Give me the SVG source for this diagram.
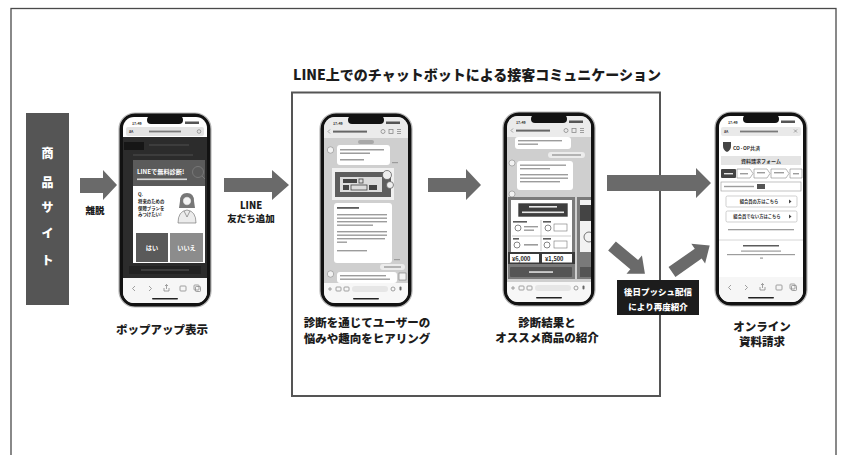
<svg xmlns="http://www.w3.org/2000/svg" width="851" height="455" viewBox="0 0 851 455">
  <style>
    .jp { font-family: "Noto Sans CJK JP", "Noto Sans", sans-serif; }
    .cap { font-family: "Noto Sans CJK JP", "Noto Sans", sans-serif; font-weight: 900; font-size: 11.5px; fill: #1c1c1c; text-anchor: middle; }
    .title { font-family: "Noto Sans CJK JP", "Noto Sans", sans-serif; font-weight: 900; font-size: 14px; fill: #1c1c1c; text-anchor: middle; }
    .lbl { font-family: "Noto Sans CJK JP", "Noto Sans", sans-serif; font-weight: 900; font-size: 9.5px; fill: #1c1c1c; text-anchor: middle; }
    .arrow { fill: #6a6a6a; }
    .bezel { fill: #121212; stroke: #b8b8b8; stroke-width: 1.2; }
    .notch { fill: #121212; }
    .bar { fill: #9c9c9c; }
    .bard { fill: #5c5c5c; }
    .barw { fill: #e8e8e8; }
    .bubble { fill: #ffffff; }
    .icon { fill: none; stroke: #8a8a8a; stroke-width: 0.8; }
    .tiny { font-family: "Noto Sans CJK JP", "Noto Sans", sans-serif; font-weight: 700; }
  </style>
  <defs>
    <clipPath id="screen-clip">
      <rect x="4" y="4" width="84" height="186" rx="11"/>
    </clipPath>
  </defs>

  <rect width="851" height="455" fill="#ffffff"/>
  <!-- outer frame (open at the bottom) -->
  <rect x="11" y="8.5" width="825" height="470" fill="none" stroke="#4a4a4a" stroke-width="1.3"/>

  <!-- chatbot section box and its heading -->
  <g id="chatbot-section">
    <text class="title" x="477" y="80">LINE上でのチャットボットによる接客コミュニケーション</text>
    <rect x="292" y="92.5" width="368" height="303.5" fill="none" stroke="#555" stroke-width="2"/>
  </g>

  <!-- product site -->
  <g id="product-site">
    <rect x="26" y="113" width="43" height="192" fill="#555555"/>
    <g class="jp" font-weight="900" font-size="12" fill="#ffffff" text-anchor="middle">
      <text x="47.5" y="158">商</text>
      <text x="47.5" y="187">品</text>
      <text x="47.5" y="212">サ</text>
      <text x="47.5" y="238">イ</text>
      <text x="47.5" y="265">ト</text>
    </g>
  </g>

  <!-- connectors -->
  <g id="connectors">
    <polygon class="arrow" points="80,178 103,178 103,170 117,185 103,200 103,193 80,193"/>
    <polygon class="arrow" points="224,178 272,178 272,170 289,185 272,200 272,192 224,192"/>
    <polygon class="arrow" points="428,178 466,178 466,169 481,185 466,200 466,192 428,192"/>
    <polygon class="arrow" points="607,175 696,175 696,168 711,183 696,198 696,191 607,191"/>
    <polygon class="arrow" transform="translate(612,246) rotate(40)" points="0,-6 29,-6 29,-12 43,0 29,12 29,6 0,6"/>
    <polygon class="arrow" transform="translate(672,272) rotate(-35)" points="0,-6 32,-6 32,-12 46,0 32,12 32,6 0,6"/>
    <text class="lbl" x="95" y="213.5">離脱</text>
    <text class="lbl" x="251" y="208.5">LINE</text>
    <text class="lbl" x="251" y="222">友だち追加</text>
  </g>

  <!-- push notification label -->
  <g id="push-label">
    <rect x="617" y="280" width="82" height="35" fill="#1c1c1c"/>
    <text class="jp" x="658" y="295" font-size="8.5" font-weight="900" fill="#ffffff" text-anchor="middle">後日プッシュ配信</text>
    <text class="jp" x="658" y="309.5" font-size="8.5" font-weight="900" fill="#ffffff" text-anchor="middle">により再度紹介</text>
  </g>

  <!-- phone 1: popup on product site -->
  <g id="phone-popup">
    <g transform="translate(119,113)">
      <rect class="bezel" x="0" y="0" width="92" height="194" rx="16"/>
      <g clip-path="url(#screen-clip)">
        <rect x="4" y="4" width="84" height="186" fill="#ffffff"/>
        <text class="tiny" x="13" y="11.5" font-size="3.6" fill="#333">17:49</text>
        <rect x="66" y="8.5" width="14" height="2.5" fill="#555"/>
        <rect x="7" y="14" width="78" height="9" rx="2" fill="#e3e3e3"/>
        <text class="tiny" x="10" y="20.3" font-size="3.6" fill="#444">aA</text>
        <rect x="30" y="17.6" width="32" height="1.8" fill="#7a7a7a"/>
        <circle cx="80" cy="18.5" r="1.8" class="icon"/>
        <!-- dimmed page -->
        <rect x="4" y="24" width="84" height="141" fill="#2c2c2c"/>
        <rect x="5" y="29" width="20" height="8" fill="#161616"/>
        <rect x="30" y="31" width="40" height="2" fill="#3d3d3d"/>
        <rect x="14" y="41" width="60" height="2" fill="#3d3d3d"/>
        <rect x="10" y="153" width="72" height="8" fill="#222"/>
        <rect x="22" y="156" width="48" height="2" fill="#3d3d3d"/>
        <!-- popup -->
        <rect x="14" y="47" width="72" height="26" fill="#5b5b5b"/>
        <circle cx="79" cy="59" r="5.5" fill="none" stroke="#777" stroke-width="1"/>
        <line x1="83" y1="63" x2="86" y2="66" stroke="#777" stroke-width="1"/>
        <text class="tiny" x="18" y="61" font-size="6.2" fill="#ffffff">LINEで無料診断!</text>
        <rect x="18" y="65.5" width="50" height="1.6" fill="#d8d8d8"/>
        <rect x="14" y="73" width="72" height="77" fill="#ffffff"/>
        <text class="tiny" x="19" y="83" font-size="4.6" fill="#222">Q.</text>
        <text class="tiny" x="19" y="90" font-size="4.4" fill="#222">将来のための</text>
        <text class="tiny" x="19" y="96.5" font-size="4.4" fill="#222">保障プランを</text>
        <text class="tiny" x="19" y="103" font-size="4.4" fill="#222">みつけたい!</text>
        <!-- consultant illustration -->
        <path d="M61,88 q0,-8 7,-8 q7,0 7,8 l1,7 l-16,0 z" fill="#777"/>
        <circle cx="68" cy="88" r="4.2" fill="#f4f4f4" stroke="#666" stroke-width="0.5"/>
        <path d="M59,110 q0,-12 9,-13 q9,1 9,13 z" fill="#ececec" stroke="#666" stroke-width="0.6"/>
        <path d="M65,98 l3,6 l3,-6" fill="none" stroke="#666" stroke-width="0.6"/>
        <rect x="17" y="120" width="32" height="29" fill="#5a5a5a"/>
        <rect x="51" y="120" width="33" height="29" fill="#8c8c8c"/>
        <text class="tiny" x="33" y="137" font-size="6.2" fill="#ffffff" text-anchor="middle">はい</text>
        <text class="tiny" x="67.5" y="137" font-size="6.2" fill="#ffffff" text-anchor="middle">いいえ</text>
        <!-- browser toolbar -->
        <rect x="4" y="165" width="84" height="25" fill="#f6f6f6"/>
        <path class="icon" d="M16,173 l-2.5,2.5 l2.5,2.5 M30,173 l2.5,2.5 l-2.5,2.5"/>
        <path class="icon" d="M45,178 h5 v-3 M47.5,171.5 v4.5 M46,173 l1.5,-1.5 l1.5,1.5 M45,175 v3"/>
        <rect class="icon" x="61" y="173" width="6" height="5" rx="0.8"/>
        <rect class="icon" x="75" y="172" width="5" height="5" rx="0.8"/>
        <rect class="icon" x="76.5" y="173.5" width="5" height="5" rx="0.8"/>
        <rect x="33" y="185" width="26" height="1.6" rx="0.8" fill="#222"/>
      </g>
      <rect class="notch" x="28" y="3" width="36" height="8" rx="4"/>
    </g>
    <text class="cap" x="162" y="334">ポップアップ表示</text>
  </g>

  <!-- phone 2: chatbot hearing -->
  <g id="phone-hearing">
    <g transform="translate(320,113)">
      <rect class="bezel" x="0" y="0" width="92" height="194" rx="16"/>
      <g clip-path="url(#screen-clip)">
        <rect x="4" y="4" width="84" height="186" fill="#cfcfcf"/>
        <rect x="4" y="4" width="84" height="21" fill="#ebebeb"/>
        <text class="tiny" x="13" y="11.5" font-size="3.6" fill="#333">17:49</text>
        <rect x="66" y="8.5" width="14" height="2.5" fill="#555"/>
        <path class="icon" d="M10,16.5 l-2,2 l2,2"/>
        <rect x="13" y="17.6" width="34" height="2" fill="#666"/>
        <circle class="icon" cx="63" cy="18.5" r="2"/>
        <rect class="icon" x="69" y="16.5" width="4" height="4"/>
        <path class="icon" d="M77,16.5 h4 M77,18.5 h4 M77,20.5 h4"/>
        <rect x="38" y="27" width="16" height="4" rx="2" fill="#a8a8a8"/>
        <!-- bot bubble 1 -->
        <circle cx="10.5" cy="37" r="3.2" fill="#f2f2f2" stroke="#777" stroke-width="0.5"/>
        <rect class="bubble" x="17" y="32" width="53" height="20" rx="3"/>
        <rect class="bar" x="20" y="36" width="44" height="1.5"/>
        <rect class="bar" x="20" y="39.5" width="30" height="1.5"/>
        <rect class="bar" x="20" y="46" width="24" height="1.5"/>
        <rect class="bar" x="72" y="49" width="6" height="1.2"/>
        <!-- banner image -->
        <rect x="12" y="55" width="62" height="32" fill="#f0f0f0"/>
        <rect x="15" y="59" width="56" height="25" fill="#5e5e5e"/>
        <rect x="20" y="64" width="42" height="15" fill="#dcdcdc"/>
        <rect x="23" y="66" width="14" height="4" fill="#444"/>
        <rect x="39" y="66" width="4" height="4" fill="none" stroke="#444" stroke-width="0.8"/>
        <rect x="23" y="72" width="6" height="5" fill="#444"/>
        <rect x="31" y="72" width="16" height="5" fill="none" stroke="#444" stroke-width="0.8"/>
        <rect x="49" y="72" width="8" height="5" fill="#444"/>
        <circle cx="67" cy="62" r="4.5" fill="#eeeeee" stroke="#555" stroke-width="0.7"/>
        <circle cx="70" cy="72" r="3.5" fill="#eeeeee" stroke="#555" stroke-width="0.7"/>
        <!-- bot bubble 2 -->
        <rect class="bubble" x="14" y="90" width="58" height="60" rx="3"/>
        <rect class="bard" x="17" y="94" width="22" height="1.8"/>
        <rect class="bar" x="17" y="101" width="50" height="1.4"/>
        <rect class="bar" x="17" y="104.5" width="50" height="1.4"/>
        <rect class="bar" x="17" y="108" width="50" height="1.4"/>
        <rect class="bar" x="17" y="111.5" width="36" height="1.4"/>
        <rect class="bar" x="17" y="118" width="50" height="1.4"/>
        <rect class="bar" x="17" y="121.5" width="50" height="1.4"/>
        <rect class="bar" x="17" y="125" width="48" height="1.4"/>
        <rect class="bar" x="17" y="128.5" width="10" height="1.4"/>
        <rect class="bar" x="17" y="137" width="30" height="1.4"/>
        <rect class="bar" x="74" y="146" width="6" height="1.2"/>
        <!-- user reply -->
        <rect x="60" y="151" width="25" height="6" rx="3" fill="#ececec"/>
        <rect class="bar" x="64" y="153.3" width="17" height="1.4"/>
        <!-- bot bubble 3 -->
        <circle cx="10.5" cy="161" r="3.2" fill="#f2f2f2" stroke="#777" stroke-width="0.5"/>
        <rect class="bubble" x="17" y="159" width="60" height="11" rx="3"/>
        <rect class="bar" x="20" y="162" width="46" height="1.4"/>
        <rect class="bar" x="20" y="165.5" width="50" height="1.4"/>
        <rect x="79" y="160" width="7" height="7" fill="#f4f4f4" stroke="#666" stroke-width="0.5"/>
        <!-- input bar -->
        <rect x="4" y="170" width="84" height="20" fill="#f7f7f7"/>
        <path class="icon" d="M8,176 h4 M10,174 v4"/>
        <rect class="icon" x="16" y="174" width="5" height="4" rx="0.8"/>
        <rect class="icon" x="24" y="174" width="5" height="4" rx="0.8"/>
        <rect x="32" y="173" width="36" height="6" rx="3" fill="#e6e6e6"/>
        <circle class="icon" cx="73" cy="176" r="2"/>
        <rect x="79.5" y="173.5" width="2" height="4" rx="1" fill="#666"/>
        <rect x="33" y="185" width="26" height="1.6" rx="0.8" fill="#222"/>
      </g>
      <rect class="notch" x="28" y="3" width="36" height="8" rx="4"/>
    </g>
    <text class="cap" x="367" y="326.5">診断を通じてユーザーの</text>
    <text class="cap" x="367" y="342.5">悩みや趣向をヒアリング</text>
  </g>

  <!-- phone 3: diagnosis result and recommended products -->
  <g id="phone-result">
    <g transform="translate(503,112)">
      <rect class="bezel" x="0" y="0" width="92" height="194" rx="16"/>
      <g clip-path="url(#screen-clip)">
        <rect x="4" y="4" width="84" height="186" fill="#cfcfcf"/>
        <rect x="4" y="4" width="84" height="21" fill="#ebebeb"/>
        <text class="tiny" x="13" y="11.5" font-size="3.6" fill="#333">17:49</text>
        <rect x="66" y="8.5" width="14" height="2.5" fill="#555"/>
        <path class="icon" d="M10,16.5 l-2,2 l2,2"/>
        <rect x="13" y="17.6" width="34" height="2" fill="#666"/>
        <circle class="icon" cx="63" cy="18.5" r="2"/>
        <rect class="icon" x="69" y="16.5" width="4" height="4"/>
        <path class="icon" d="M77,16.5 h4 M77,18.5 h4 M77,20.5 h4"/>
        <!-- bot bubble -->
        <rect class="bubble" x="12" y="25" width="56" height="12" rx="3"/>
        <rect class="bar" x="15" y="28" width="44" height="1.4"/>
        <rect class="bar" x="15" y="31.5" width="20" height="1.4"/>
        <!-- user reply -->
        <rect x="45" y="40" width="37" height="6" rx="3" fill="#ececec"/>
        <rect class="bar" x="49" y="42.3" width="29" height="1.4"/>
        <!-- bot bubble -->
        <circle cx="9" cy="51" r="3" fill="#f2f2f2" stroke="#777" stroke-width="0.5"/>
        <rect class="bubble" x="14" y="49" width="56" height="29" rx="3"/>
        <rect class="bar" x="17" y="52.5" width="46" height="1.4"/>
        <rect class="bar" x="17" y="56" width="30" height="1.4"/>
        <rect class="bar" x="17" y="62" width="48" height="1.4"/>
        <rect class="bar" x="17" y="65.5" width="48" height="1.4"/>
        <rect class="bar" x="17" y="69" width="40" height="1.4"/>
        <circle cx="9" cy="82" r="3" fill="#f2f2f2" stroke="#777" stroke-width="0.5"/>
        <!-- recommendation card -->
        <rect x="5" y="85" width="67" height="82" fill="#7a7a7a"/>
        <rect x="8" y="88" width="61" height="52" fill="#ffffff"/>
        <rect x="15" y="91" width="50" height="14" fill="#3e3e3e" stroke="#ffffff" stroke-width="0.6"/>
        <rect class="barw" x="26" y="94" width="28" height="1.6"/>
        <rect class="barw" x="19" y="99.5" width="42" height="1.6"/>
        <line x1="38" y1="108" x2="38" y2="139" stroke="#aaa" stroke-width="0.6"/>
        <line x1="9" y1="124" x2="68" y2="124" stroke="#aaa" stroke-width="0.6"/>
        <rect class="bard" x="10" y="109" width="14" height="1.6"/>
        <circle cx="15" cy="116" r="3" fill="none" stroke="#555" stroke-width="0.7"/>
        <rect class="bar" x="21" y="114" width="14" height="1.4"/>
        <rect class="bar" x="21" y="117.5" width="10" height="1.4"/>
        <rect class="bard" x="40" y="109" width="8" height="1.6"/>
        <circle cx="45" cy="116" r="3" fill="none" stroke="#555" stroke-width="0.7"/>
        <rect x="51" y="112" width="13" height="7" fill="none" stroke="#777" stroke-width="0.6"/>
        <rect class="bard" x="10" y="126" width="6" height="1.6"/>
        <circle cx="14" cy="133" r="3" fill="none" stroke="#555" stroke-width="0.7"/>
        <rect class="bar" x="21" y="132" width="14" height="1.6"/>
        <rect class="bard" x="40" y="126" width="8" height="1.6"/>
        <circle cx="44" cy="133" r="3" fill="none" stroke="#555" stroke-width="0.7"/>
        <rect x="51" y="129" width="13" height="7" fill="none" stroke="#777" stroke-width="0.6"/>
        <!-- price strip -->
        <rect x="5" y="140" width="67" height="12" fill="#3a3a3a"/>
        <rect x="7" y="142" width="29" height="8.5" fill="#ffffff"/>
        <rect x="39" y="142" width="30" height="8.5" fill="#ffffff"/>
        <text class="tiny" x="9" y="148.8" font-size="5.6" fill="#222">¥6,000</text>
        <text class="tiny" x="42" y="148.8" font-size="5.6" fill="#222">¥1,500</text>
        <rect x="7" y="155" width="62" height="10" rx="1" fill="#555"/>
        <rect class="barw" x="26" y="159.3" width="24" height="1.5"/>
        <!-- next card peek -->
        <rect x="74" y="85" width="16" height="82" fill="#7a7a7a"/>
        <rect x="77" y="88" width="13" height="52" fill="#f2f2f2"/>
        <rect x="77" y="93" width="13" height="16" fill="#444"/>
        <circle cx="86" cy="125" r="5" fill="none" stroke="#555" stroke-width="0.8"/>
        <rect x="77" y="155" width="13" height="10" fill="#555"/>
        <!-- input bar -->
        <rect x="4" y="170" width="84" height="20" fill="#f7f7f7"/>
        <path class="icon" d="M8,176 h4 M10,174 v4"/>
        <rect class="icon" x="16" y="174" width="5" height="4" rx="0.8"/>
        <rect class="icon" x="24" y="174" width="5" height="4" rx="0.8"/>
        <rect x="32" y="173" width="36" height="6" rx="3" fill="#e6e6e6"/>
        <circle class="icon" cx="73" cy="176" r="2"/>
        <rect x="79.5" y="173.5" width="2" height="4" rx="1" fill="#666"/>
        <rect x="33" y="185" width="26" height="1.6" rx="0.8" fill="#222"/>
      </g>
      <rect class="notch" x="28" y="3" width="36" height="8" rx="4"/>
    </g>
    <text class="cap" x="547" y="327">診断結果と</text>
    <text class="cap" x="547" y="341.5">オススメ商品の紹介</text>
  </g>

  <!-- phone 4: online document request -->
  <g id="phone-request">
    <g transform="translate(715,112)">
      <rect class="bezel" x="0" y="0" width="92" height="194" rx="16"/>
      <g clip-path="url(#screen-clip)">
        <rect x="4" y="4" width="84" height="186" fill="#ffffff"/>
        <text class="tiny" x="13" y="11.5" font-size="3.6" fill="#333">17:49</text>
        <rect x="66" y="8.5" width="14" height="2.5" fill="#555"/>
        <rect x="6" y="15" width="80" height="9" rx="2" fill="#e9e9e9"/>
        <text class="tiny" x="9" y="21.3" font-size="3.6" fill="#444">aA</text>
        <rect x="25" y="18.6" width="38" height="1.8" fill="#7a7a7a"/>
        <path class="icon" d="M79,17.5 l3,3 M82,17.5 l-3,3"/>
        <!-- logo -->
        <path d="M8,30 h8 v4 q0,4 -4,6 q-4,-2 -4,-6 z" fill="#444"/>
        <text class="tiny" x="18" y="38" font-size="5" fill="#333">CO·OP共済</text>
        <!-- form header -->
        <rect x="6" y="44" width="80" height="9" fill="#e4e4e4"/>
        <text class="tiny" x="46" y="50.6" font-size="5" fill="#333" text-anchor="middle">資料請求フォーム</text>
        <!-- steps -->
        <rect x="6" y="57" width="15" height="9" rx="1" fill="#444"/>
        <rect class="barw" x="9" y="61" width="9" height="1.4"/>
        <path d="M22,57 h13 l3,4.5 l-3,4.5 h-13 z" fill="#fff" stroke="#888" stroke-width="0.6"/>
        <path d="M39,57 h13 l3,4.5 l-3,4.5 h-13 z" fill="#fff" stroke="#888" stroke-width="0.6"/>
        <path d="M56,57 h15 l3,4.5 l-3,4.5 h-15 z" fill="#fff" stroke="#888" stroke-width="0.6"/>
        <path d="M75,57 h12 v9 h-12 z" fill="#fff" stroke="#888" stroke-width="0.6"/>
        <rect class="bar" x="25" y="61" width="8" height="1.4"/>
        <rect class="bar" x="42" y="60" width="8" height="1.4"/>
        <rect class="bar" x="59" y="60" width="10" height="1.4"/>
        <rect class="bar" x="78" y="61" width="6" height="1.4"/>
        <!-- customer row -->
        <rect x="6" y="70" width="80" height="9" fill="#fff" stroke="#999" stroke-width="0.6"/>
        <rect class="bar" x="9" y="73.8" width="30" height="1.4"/>
        <rect x="42" y="72" width="8" height="5" fill="#555"/>
        <!-- buttons -->
        <rect x="11" y="84" width="71" height="11" rx="1.5" fill="#fff" stroke="#bbb" stroke-width="0.7"/>
        <text class="tiny" x="44" y="91.3" font-size="4.3" fill="#333" text-anchor="middle">組合員の方はこちら</text>
        <path d="M74,87.5 l2.5,2 l-2.5,2 z" fill="#444"/>
        <rect x="11" y="99" width="71" height="11" rx="1.5" fill="#fff" stroke="#bbb" stroke-width="0.7"/>
        <text class="tiny" x="42" y="106.3" font-size="4.3" fill="#333" text-anchor="middle">組合員でない方はこちら</text>
        <path d="M74,102.5 l2.5,2 l-2.5,2 z" fill="#444"/>
        <rect class="bar" x="13" y="117" width="66" height="1.3"/>
        <line x1="4" y1="128" x2="88" y2="128" stroke="#ccc" stroke-width="0.8"/>
        <rect class="bard" x="28" y="133" width="36" height="1.5"/>
        <rect class="bar" x="26" y="138.5" width="40" height="1.2"/>
        <rect class="bar" x="12" y="142" width="68" height="1.2"/>
        <rect class="bar" x="45" y="145.5" width="3" height="1.2"/>
        <!-- browser toolbar -->
        <rect x="4" y="165" width="84" height="25" fill="#f6f6f6"/>
        <path class="icon" d="M16,173 l-2.5,2.5 l2.5,2.5 M30,173 l2.5,2.5 l-2.5,2.5"/>
        <path class="icon" d="M45,178 h5 v-3 M47.5,171.5 v4.5 M46,173 l1.5,-1.5 l1.5,1.5 M45,175 v3"/>
        <rect class="icon" x="61" y="173" width="6" height="5" rx="0.8"/>
        <rect class="icon" x="75" y="172" width="5" height="5" rx="0.8"/>
        <rect class="icon" x="76.5" y="173.5" width="5" height="5" rx="0.8"/>
        <rect x="33" y="185" width="26" height="1.6" rx="0.8" fill="#222"/>
      </g>
      <rect class="notch" x="28" y="3" width="36" height="8" rx="4"/>
    </g>
    <text class="cap" x="762" y="331">オンライン</text>
    <text class="cap" x="762" y="345.5">資料請求</text>
  </g>
</svg>
